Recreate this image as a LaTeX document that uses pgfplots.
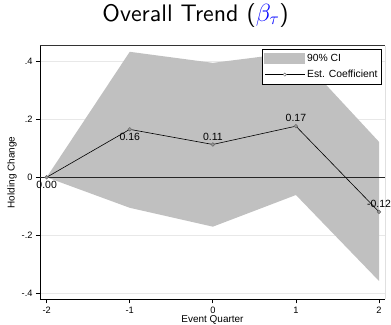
\documentclass[border=0pt]{standalone}
\usepackage{pgfplots}
\pgfplotsset{compat=1.18}
\usepackage{fontspec}
\newfontfamily\arial{Liberation Sans}
\newfontfamily\lmssten{lmsans10-regular}[Extension=.otf]
\definecolor{cifill}{RGB}{192,192,192}
\definecolor{mk}{RGB}{110,110,110}
\begin{document}
\begin{tikzpicture}
\begin{axis}[
  at={(0,0)}, anchor=south west,
  scale only axis,
  width=345bp, height=253.6bp,
  xmin=-2.08, xmax=2.072,
  ymin=-0.420, ymax=0.453,
  axis x line*=bottom, axis y line*=left,
  xtick={-2,-1,0,1,2},
  ytick={-0.4,-0.2,0,0.2,0.4},
  yticklabels={-.4,-.2,0,.2,.4},
  /pgf/number format/assume math mode=true,
  tick label style={font=\arial\fontsize{9.3}{10}\selectfont},
  label style={font=\arial\fontsize{10}{11}\selectfont},
  xlabel={Event Quarter},
  ylabel={Holding Change},
  xlabel style={at={(axis description cs:0.5,0)}, anchor=base, yshift=-23bp},
  ylabel style={at={(axis description cs:-0.0812,0.5)}, anchor=center},
  ymajorgrids,
  grid style={black!9, line width=0.7pt},
  axis line style={black, line width=0.9pt},
  tick style={black, line width=0.7pt},
  tick align=outside,
  major tick length=4bp,
  title={\lmssten\fontsize{24}{27}\selectfont Overall Trend (\textcolor{blue}{$\beta_\tau$})},
  title style={at={(axis description cs:0.4507,1)}, anchor=base, yshift=18.5bp, inner sep=0pt},
  legend style={at={(0.991,0.987)}, anchor=north east, draw=black, line width=0.7pt,
    font=\arial\fontsize{10.4}{11}\selectfont, row sep=3bp, inner xsep=2bp, inner ysep=3bp},
  legend cell align=left,
  clip=false,
]
\addplot[fill=cifill, draw=none, forget plot] coordinates {
  (-2,0) (-1,0.432) (0,0.394) (1,0.43) (2,0.122)
  (2,-0.357) (1,-0.061) (0,-0.170) (-1,-0.105) (-2,0)
} -- cycle;
\addlegendimage{legend image code/.code={\fill[cifill] (0bp,-5bp) rectangle (40bp,5bp);}}
\addlegendentry{90\% CI}
\draw[black!85, line width=0.9pt] (axis cs:-2.08,0) -- (axis cs:2.072,0);
\draw[black!80, line width=0.9pt] (rel axis cs:0,1) -- (rel axis cs:1,1);
\draw[black!12, line width=0.7pt] (rel axis cs:1,0) -- (rel axis cs:1,1);
\addplot[black, line width=0.6pt, mark=*, mark size=1.8bp,
  mark options={draw=mk, fill=mk!70, line width=0.6pt},
  legend image code/.code={\draw[black,line width=0.6pt] (0bp,0bp) -- (40bp,0bp);
    \draw[mk, fill=white, line width=0.5pt] (20bp,0bp) circle (1.6bp);}] coordinates {
  (-2,0) (-1,0.165) (0,0.113) (1,0.176) (2,-0.119)
};
\addlegendentry{Est. Coefficient}
\addplot[draw=none, forget plot, point meta=explicit,
  nodes near coords={\pgfmathprintnumber[fixed,precision=2,fixed zerofill]{\pgfplotspointmeta}},
  nodes near coords align={below},
  nodes near coords style={font=\arial\fontsize{10.5}{11}\selectfont, inner sep=3.5bp}]
  coordinates {(-2,0) [0.00] (-1,0.165) [0.16]};
\addplot[draw=none, forget plot, point meta=explicit,
  nodes near coords={\pgfmathprintnumber[fixed,precision=2,fixed zerofill]{\pgfplotspointmeta}},
  nodes near coords align={above},
  nodes near coords style={font=\arial\fontsize{10.5}{11}\selectfont, inner sep=4bp}]
  coordinates {(0,0.113) [0.11] (1,0.176) [0.17] (2,-0.119) [-0.12]};
\end{axis}
\pgfresetboundingbox
\path[use as bounding box] (-40bp,-25.7bp) rectangle (351bp,299.3bp);
\end{tikzpicture}
\end{document}
